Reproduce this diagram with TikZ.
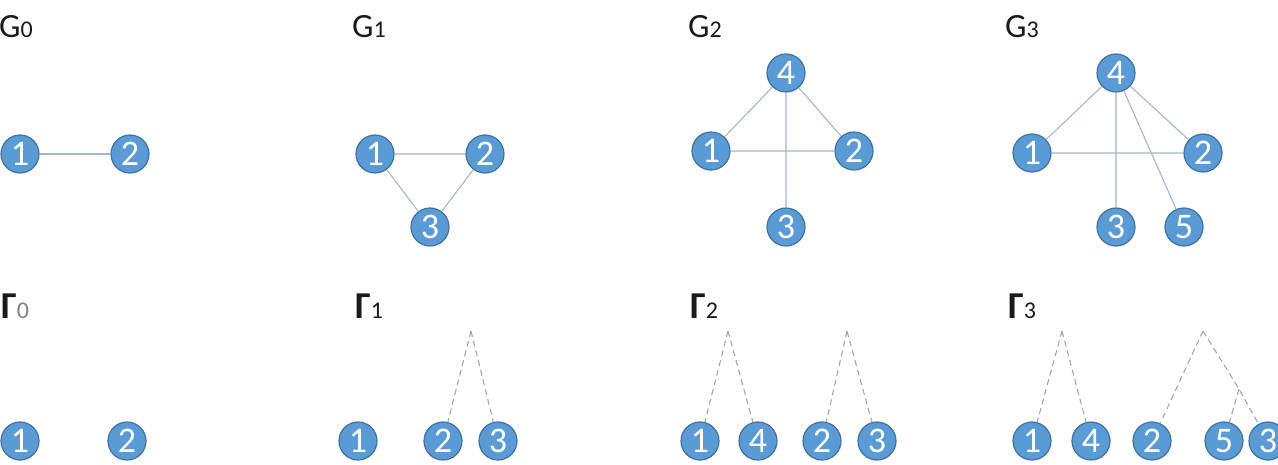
\documentclass[tikz,border=0pt]{standalone}
\usepackage{fontspec}
\setmainfont{Carlito}
\definecolor{nodefill}{HTML}{5B9BD5}
\definecolor{nodeline}{HTML}{41719C}
\definecolor{edgecol}{HTML}{A3B6CA}
\definecolor{dendcol}{HTML}{A6A6A6}
\definecolor{titlecol}{HTML}{1A1A1A}
\begin{document}
\begin{tikzpicture}[x=1pt,y=-1pt,
  vert/.style={circle,fill=nodefill,draw=nodeline,line width=1.2pt,minimum size=38pt,inner sep=0pt,text=white,font=\fontsize{36}{36}\selectfont},
  edge/.style={draw=edgecol,line width=1.1pt},
  dend/.style={draw=dendcol,line width=1.1pt,dash pattern=on 6pt off 4pt},
  title/.style={anchor=base west,inner sep=0pt,text=titlecol,font=\fontsize{34}{34}\selectfont},
  gtitle/.style={anchor=base west,inner sep=0pt,text=titlecol,font=\fontsize{38}{38}\selectfont\bfseries}]
\useasboundingbox (0,0) rectangle (1278,464);
\clip (0,0) rectangle (1278,464);
% titles
\node[title] (lg0) at (-1,37) {G{\fontsize{24}{24}\selectfont 0}};
\node[title] (lg1) at (352,37) {G{\fontsize{24}{24}\selectfont 1}};
\node[title] (lg2) at (688,37) {G{\fontsize{24}{24}\selectfont 2}};
\node[title] (lg3) at (1005,37) {G{\fontsize{24}{24}\selectfont 3}};
\node[gtitle] (lt0) at (1,318) {Γ{\fontsize{24}{24}\selectfont\mdseries\color{gray} 0}};
\node[gtitle] (lt1) at (355,318) {Γ{\fontsize{24}{24}\selectfont\mdseries 1}};
\node[gtitle] (lt2) at (690,318) {Γ{\fontsize{24}{24}\selectfont\mdseries 2}};
\node[gtitle] (lt3) at (1008,318) {Γ{\fontsize{24}{24}\selectfont\mdseries 3}};
% G0
\node[vert] (a1) at (20,154) {1};
\node[vert] (a2) at (130,154) {2};
\draw[edge] (a1) -- (a2);
% G1
\node[vert] (b1) at (375,154) {1};
\node[vert] (b2) at (485,154) {2};
\node[vert] (b3) at (430,227) {3};
\draw[edge] (b1) -- (b2) (b1) -- (b3) (b2) -- (b3);
% G2
\node[vert] (c4) at (786,73) {4};
\node[vert] (c1) at (711,151) {1};
\node[vert] (c2) at (854,151) {2};
\node[vert] (c3) at (786,227) {3};
\draw[edge] (c4) -- (c1) (c4) -- (c2) (c4) -- (c3) (c1) -- (c2);
% G3
\node[vert] (d4) at (1116,73) {4};
\node[vert] (d1) at (1032,153) {1};
\node[vert] (d2) at (1203,153) {2};
\node[vert] (d3) at (1116,227) {3};
\node[vert] (d5) at (1184,227) {5};
\draw[edge] (d4) -- (d1) (d4) -- (d2) (d4) -- (d3) (d4) -- (d5) (d1) -- (d2);
% Gamma0
\node[vert] (e1) at (20,441) {1};
\node[vert] (e2) at (127,441) {2};
% Gamma1
\node[vert] (f1) at (358,441) {1};
\node[vert] (f2) at (443,441) {2};
\node[vert] (f3) at (498,441) {3};
\coordinate (fa) at (471,331);
\draw[dend] (fa) -- (f2) (fa) -- (f3);
% Gamma2
\node[vert] (h1) at (700,441) {1};
\node[vert] (h4) at (758,441) {4};
\node[vert] (h2) at (822,441) {2};
\node[vert] (h3) at (877,441) {3};
\coordinate (ha) at (728,331);
\coordinate (hb) at (847,331);
\draw[dend] (ha) -- (h1) (ha) -- (h4) (hb) -- (h2) (hb) -- (h3);
% Gamma3
\node[vert] (k1) at (1032,441) {1};
\node[vert] (k4) at (1091,441) {4};
\node[vert] (k2) at (1152,441) {2};
\node[vert] (k5) at (1224,441) {5};
\node[vert] (k3) at (1268,441) {3};
\coordinate (ka) at (1062,331);
\coordinate (kb) at (1203,331);
\coordinate (kj) at (1239,389);
\draw[dend] (ka) -- (k1) (ka) -- (k4) (kb) -- (k2) (kb) -- (kj) -- (k3) (kj) -- (k5);
\end{tikzpicture}
\end{document}
